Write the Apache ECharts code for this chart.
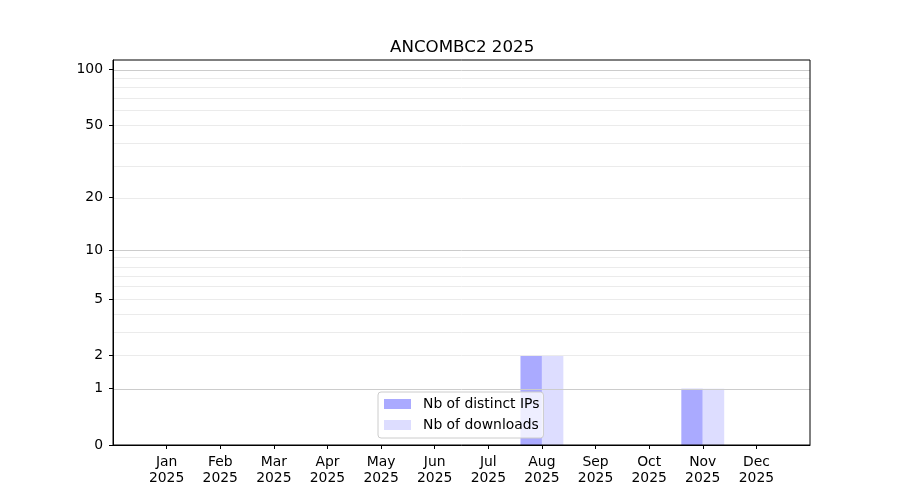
<!DOCTYPE html>
<html>
<head>
<meta charset="utf-8">
<script src="https://cdn.jsdelivr.net/npm/echarts@6/dist/echarts.min.js"></script>
<style>
html,body{margin:0;padding:0;background:#fff;}
#chart{width:900px;height:500px;}
</style>
</head>
<body>
<div id="chart"></div>
<script>
const months = ['Jan','Feb','Mar','Apr','May','Jun','Jul','Aug','Sep','Oct','Nov','Dec'];
const yearLabel = '2025';
const distinctIPs = [0,0,0,0,0,0,0,2,0,0,1,0];
const downloads   = [0,0,0,0,0,0,0,2,0,0,1,0];
const yTickValues = [0,1,2,5,10,20,50,100];
const majorGrid = [1,10,100];
const minorGrid = [2,3,4,5,6,7,8,9,20,30,40,50,60,70,80,90];
const titleText = 'ANCOMBC2 2025';
const seriesNames = ['Nb of distinct IPs','Nb of downloads'];

const FONT = 'DejaVu Sans';
const f = v => Math.log10(1 + v);

const cats = [''].concat(months.map(m => m + '\n' + yearLabel)).concat(['']);
const pad = arr => [null].concat(arr.map(f)).concat([null]);

const gridLines = majorGrid.map(v => ({yAxis: f(v), lineStyle: {color: '#cccccc', width: 1, type: 'solid'}}))
  .concat(minorGrid.map(v => ({yAxis: f(v), lineStyle: {color: '#ebebeb', width: 1, type: 'solid'}})));

const chart = echarts.init(document.getElementById('chart'), null, {renderer: 'canvas'});
chart.setOption({
  animation: false,
  backgroundColor: '#ffffff',
  textStyle: {fontFamily: FONT},
  title: {
    text: titleText,
    left: 390,
    top: 39,
    padding: 0,
    textStyle: {fontFamily: FONT, fontSize: 16.7, fontWeight: 'normal', color: '#000'}
  },
  grid: {
    left: 113, right: 90, top: 60, bottom: 55,
    show: true, borderColor: '#000', borderWidth: 1, backgroundColor: 'transparent',
    z: 10,
    containLabel: false
  },
  legend: {
    orient: 'vertical',
    left: 378, top: 392,
    data: seriesNames,
    icon: 'rect',
    itemWidth: 27, itemHeight: 10, itemGap: 7,
    padding: [5, 4, 6, 6],
    backgroundColor: 'rgba(255,255,255,0.8)',
    borderColor: '#cccccc', borderWidth: 1, borderRadius: 3,
    z: 12,
    textStyle: {fontFamily: FONT, fontSize: 13.9, color: '#000', lineHeight: 14, padding: [0, 0, 0, 7]}
  },
  xAxis: {
    type: 'category',
    data: cats,
    boundaryGap: false,
    z: 10,
    axisLine: {show: true, lineStyle: {color: '#000', width: 1}},
    axisTick: {show: true, length: 4, lineStyle: {color: '#000'},
      interval: (i) => i > 0 && i < cats.length - 1},
    axisLabel: {interval: 0, margin: 9, color: '#000', fontFamily: FONT, fontSize: 13.9, lineHeight: 16},
    splitLine: {show: false}
  },
  yAxis: {
    type: 'value',
    min: 0,
    max: 2.056,
    z: 10,
    axisLine: {show: true, lineStyle: {color: '#000', width: 1}},
    axisTick: {show: true, length: 4, lineStyle: {color: '#000'}, customValues: yTickValues.map(f)},
    axisLabel: {
      color: '#000', fontFamily: FONT, fontSize: 13.9, margin: 10,
      padding: [4, 0, 0, 0],
      customValues: yTickValues.map(f),
      formatter: (v) => {
        const t = yTickValues.find(t => Math.abs(f(t) - v) < 1e-6);
        return t === undefined ? '' : String(t);
      }
    },
    splitLine: {show: false}
  },
  series: [
    {
      name: 'grid',
      type: 'line',
      data: [],
      z: 1,
      silent: true,
      markLine: {silent: true, symbol: 'none', label: {show: false}, animation: false, data: gridLines}
    },
    {
      name: seriesNames[0],
      type: 'bar',
      data: pad(distinctIPs),
      barWidth: '40%',
      barGap: '0%',
      z: 3,
      itemStyle: {color: '#aaaaff'}
    },
    {
      name: seriesNames[1],
      type: 'bar',
      data: pad(downloads),
      barWidth: '40%',
      barGap: '0%',
      z: 3,
      itemStyle: {color: '#ddddff'}
    }
  ]
});
</script>
</body>
</html>
